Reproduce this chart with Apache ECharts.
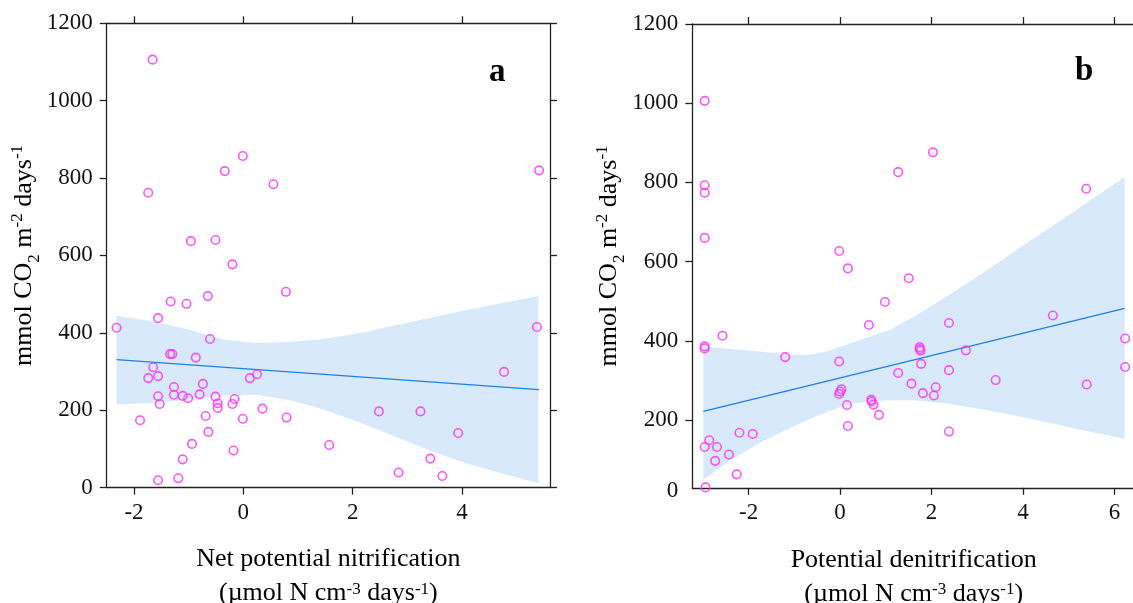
<!DOCTYPE html>
<html><head><meta charset="utf-8">
<script src="https://cdn.jsdelivr.net/npm/echarts@6/dist/echarts.min.js"></script>
<style>html,body{margin:0;padding:0;background:#fff}#c{width:1133px;height:603px}</style>
</head><body><div id="c"></div>
<script>
// ---- Panel a: net potential nitrification ----
const aX = [-1.66,-1.74,-0.34,-0.01,0.55,-0.96,-0.51,-0.20,0.78,-1.33,-1.04,-0.65,-1.56,-2.32,-0.61,-1.34,-1.30,-0.87,-1.65,-1.56,-1.74,0.12,0.25,-1.27,-0.74,-1.56,-1.27,-1.11,-1.01,-0.80,-0.51,-0.47,-0.47,-1.53,-0.16,-0.20,0.35,0.79,-1.89,-0.69,-0.01,-0.64,-0.94,-1.11,-0.18,-1.56,-1.19,5.41,5.37,4.77,2.48,3.24,3.93,1.57,3.42,2.84,3.64];
const aY = [1106,762,818,857,784,637,640,577,506,481,475,495,438,413,384,345,345,336,311,288,283,283,293,260,268,236,240,237,231,241,235,218,206,216,229,216,204,181,174,185,178,144,113,73,96,19,24,820,415,299,197,197,141,110,75,39,30];
const aLineX = [-2.32, 5.41];
const aLineY = [331, 253];
const aBandX  = [-2.32,-1.58,-0.97,-0.37,0.25,0.85,1.40,1.65,2.26,2.87,3.48,4.09,4.70,5.40];
const aBandUp = [444,428,407,383,374,377,383,388,403,422,441,459,476,495];
const aBandLo = [215,219,228,238,240,226,205,193,161,127,92,62,38,11];

// ---- Panel b: potential denitrification ----
const bX = [-2.96,-2.96,-2.96,-2.96,-0.02,0.17,0.98,0.63,-2.57,-2.96,-2.96,-1.20,-0.02,0.03,0.00,-0.02,0.15,0.68,0.69,0.73,0.85,0.17,-2.20,-1.91,-2.86,-2.96,-2.69,-2.43,-2.73,-2.26,-2.94,1.27,2.03,5.38,1.50,2.38,4.65,6.23,1.74,1.74,1.76,2.75,1.77,2.38,6.23,1.27,1.56,3.40,5.39,1.81,2.09,2.05,2.38];
const bY = [1006,793,774,660,627,583,498,440,413,386,381,359,348,278,272,266,238,251,247,239,213,185,168,165,149,132,132,113,97,63,30,826,876,784,558,445,464,406,384,379,375,376,342,326,334,319,292,301,290,268,283,262,171];
const bLineX = [-2.99, 6.22];
const bLineY = [222, 482];
const bBandX  = [-2.99,-2.48,-1.76,-1.03,-0.66,-0.30,0.14,0.58,1.09,1.60,2.33,3.05,3.49,3.86,4.51,5.24,6.22];
const bBandUp = [386,381,373,365,365,373,390,408,428,460,512,566,600,630,680,737,814];
const bBandLo = [49,92,142,184,203,220,238,246,250,250,242,228,219,210,195,176,152];

// ---- ticks ----
const aTicksX = [-2,0,2,4];
const bTicksX = [-2,0,2,4,6];
const yTicks = [0,200,400,600,800,1000,1200];
const bYMin = 29;
const bYLabels = [bYMin,200,400,600,800,1000,1200];

const FONT = 'Liberation Serif';
const chart = echarts.init(document.getElementById('c'), null, {renderer:'canvas'});

const yName = '{n|mmol CO}{sub|2}{n| m}{sup|-2}{n| days}{sup|-1}';
const rich = {
  n:{fontSize:26,fontFamily:FONT,color:'#000',lineHeight:30},
  sub:{fontSize:17,fontFamily:FONT,color:'#000',verticalAlign:'bottom',lineHeight:30,padding:[0,0,-4,0]},
  sup:{fontSize:17,fontFamily:FONT,color:'#000',verticalAlign:'top',lineHeight:30}
};
function xName(t){ return '{n|'+t+'}\n{n|(µmol N cm}{sup|-3}{n| days}{sup|-1}{n|)}'; }
const xRich = {
  n:{fontSize:26,fontFamily:FONT,color:'#000',lineHeight:34},
  sup:{fontSize:17,fontFamily:FONT,color:'#000',verticalAlign:'top',lineHeight:34,padding:[4,0,0,0]}
};

const axLine = {show:true,onZero:false,lineStyle:{color:'#222',width:1.3}};
const tick = (vals)=>({show:true,inside:false,length:7,lineStyle:{color:'#222',width:1.3},customValues:vals});
const lab = (vals,fmt)=>({show:true,fontSize:23,fontFamily:FONT,color:'#111',margin:14,customValues:vals,formatter:fmt||((v)=>String(v))});

function xAxes(gi,min,max,ticks,name){
  return [
    {gridIndex:gi,type:'value',position:'bottom',min:min,max:max,axisLine:axLine,axisTick:tick(ticks),axisLabel:lab(ticks),splitLine:{show:false},
     name:xName(name),nameLocation:'middle',nameGap:55,nameTextStyle:{rich:xRich}},
    {gridIndex:gi,type:'value',position:'top',min:min,max:max,axisLine:axLine,axisTick:tick(ticks),axisLabel:{show:false},splitLine:{show:false}}
  ];
}
function yAxes(gi,min,max,ticks,labels,fmt){
  return [
    {gridIndex:gi,type:'value',position:'left',min:min,max:max,axisLine:axLine,axisTick:tick(ticks),axisLabel:lab(labels,fmt),splitLine:{show:false},
     name:yName,nameLocation:'middle',nameRotate:90,nameGap:31,nameTextStyle:{rich:rich}},
    {gridIndex:gi,type:'value',position:'right',min:min,max:max,axisLine:axLine,axisTick:tick(ticks),axisLabel:{show:false},splitLine:{show:false}}
  ];
}

function band(xi,yi,bx,up,lo){
  return {type:'custom',xAxisIndex:xi,yAxisIndex:yi,z:1,silent:true,
    data:[[bx[0],up[0]]],
    renderItem:function(params,api){
      const pts=[];
      for(let i=0;i<bx.length;i++) pts.push(api.coord([bx[i],up[i]]));
      for(let i=bx.length-1;i>=0;i--) pts.push(api.coord([bx[i],lo[i]]));
      return {type:'polygon',shape:{points:pts},style:{fill:'#d8e9fc',stroke:null}};
    }};
}
function pairs(xs,ys){ return xs.map((x,i)=>[x,ys[i]]); }

const option = {
  backgroundColor:'#fff',
  animation:false,
  grid:[
    {left:106.7,top:23.3,width:443.3,height:464.3,outerBoundsMode:'none',containLabel:false},
    {left:692.3,top:24,width:442.9,height:463.8,outerBoundsMode:'none',containLabel:false}
  ],
  xAxis:[...xAxes(0,-2.5,5.61,aTicksX,'Net potential nitrification'), ...xAxes(1,-3.23,6.45,bTicksX,'Potential denitrification')],
  yAxis:[...yAxes(0,0,1200,yTicks,yTicks), ...yAxes(1,bYMin,1200,yTicks.slice(1),bYLabels,(v)=> v===bYMin?'{z|0}':String(v))],
  graphic:[
    {type:'text',left:489,top:56,style:{text:'a',font:'bold 33px "Liberation Serif"',fill:'#000'}},
    {type:'text',left:1075,top:55,style:{text:'b',font:'bold 33px "Liberation Serif"',fill:'#000'}}
  ],
  series:[
    band(0,0,aBandX,aBandUp,aBandLo),
    {type:'line',xAxisIndex:0,yAxisIndex:0,data:pairs(aLineX,aLineY),symbol:'none',z:2,lineStyle:{color:'#1f7fe8',width:1.3}},
    {type:'scatter',xAxisIndex:0,yAxisIndex:0,data:pairs(aX,aY),symbol:'circle',symbolSize:8.5,z:3,itemStyle:{color:'rgba(0,0,0,0)',borderColor:'#ff2bff',borderWidth:1.6}},
    band(2,2,bBandX,bBandUp,bBandLo),
    {type:'line',xAxisIndex:2,yAxisIndex:2,data:pairs(bLineX,bLineY),symbol:'none',z:2,lineStyle:{color:'#1f7fe8',width:1.3}},
    {type:'scatter',xAxisIndex:2,yAxisIndex:2,data:pairs(bX,bY),symbol:'circle',symbolSize:8.5,z:3,itemStyle:{color:'rgba(0,0,0,0)',borderColor:'#ff2bff',borderWidth:1.6}}
  ]
};
option.yAxis[2].axisLabel.rich = {z:{fontSize:23,fontFamily:FONT,color:'#111',padding:[6,0,0,0]}};
chart.setOption(option);
</script></body></html>
